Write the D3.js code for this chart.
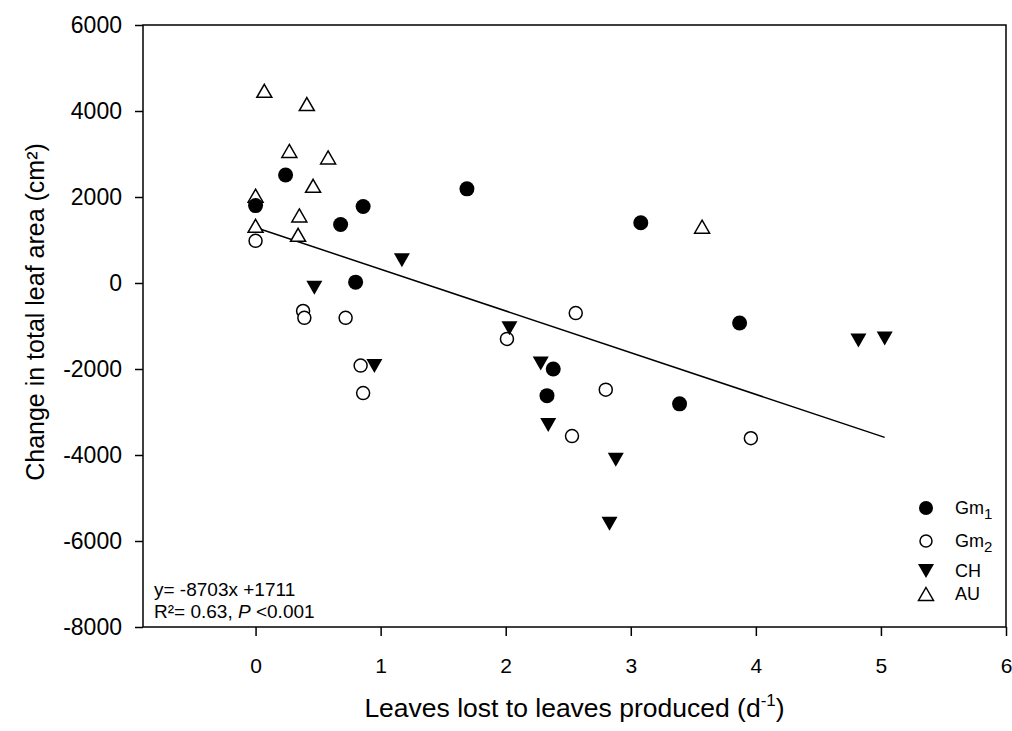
<!DOCTYPE html>
<html>
<head>
<meta charset="utf-8">
<script src="https://cdn.jsdelivr.net/npm/d3@7"></script>
<style>
  html, body { margin: 0; padding: 0; background: #fff; }
  svg { display: block; font-family: "Liberation Sans", Arial, sans-serif; }
</style>
</head>
<body>
<svg id="chart" width="1012" height="731"></svg>
<script>
// ---- data ----
const gm1X = [0.00, 0.24, 0.68, 0.86, 0.80, 1.69, 3.08, 3.87, 2.38, 2.33, 3.39];
const gm1Y = [1800, 2510, 1360, 1780, 20, 2190, 1400, -930, -2000, -2620, -2810];

const gm2X = [0.00, 0.38, 0.39, 0.72, 0.84, 0.86, 2.01, 2.56, 2.80, 2.53, 3.96];
const gm2Y = [980, -650, -810, -810, -1920, -2560, -1300, -700, -2480, -3560, -3610];

const chX = [0.47, 1.17, 0.95, 2.03, 2.28, 2.34, 2.88, 2.83, 4.82, 5.03];
const chY = [-110, 530, -1930, -1050, -1870, -3300, -4110, -5600, -1340, -1290];

const auX = [0.07, 0.41, 0.27, 0.58, 0.46, 0.00, 0.35, 0.00, 0.34, 3.57];
const auY = [4470, 4160, 3070, 2920, 2260, 2030, 1570, 1330, 1120, 1310];

const fitX = [0, 5.03];
const fitY = [1290, -3590];

const xTicks = [0, 1, 2, 3, 4, 5, 6];
const yTicks = [-8000, -6000, -4000, -2000, 0, 2000, 4000, 6000];

const seriesNames = ["Gm1", "Gm2", "CH", "AU"];

// ---- layout ----
const svg = d3.select("#chart");
const L = 143, R = 1006, T = 25, B = 627;

const x = d3.scaleLinear().domain([-0.9, 6]).range([L, R]);
const y = d3.scaleLinear().domain([-8000, 6000]).range([B, T]);

// frame
svg.append("rect")
  .attr("x", L).attr("y", T).attr("width", R - L).attr("height", B - T)
  .attr("fill", "none").attr("stroke", "#000").attr("stroke-width", 1.5);

// y axis
const yAxis = svg.append("g").attr("transform", `translate(${L},0)`)
  .call(d3.axisLeft(y).tickValues(yTicks).tickSize(8).tickPadding(13).tickFormat(d => String(d)));
yAxis.select(".domain").remove();
yAxis.selectAll("line").attr("stroke-width", 1.5);
yAxis.selectAll("text").attr("font-size", 23).attr("fill", "#000")
  .attr("font-family", "'Liberation Sans', Arial, sans-serif");

// x axis
const xAxis = svg.append("g").attr("transform", `translate(0,${B})`)
  .call(d3.axisBottom(x).tickValues(xTicks).tickSize(9).tickPadding(22).tickFormat(d => String(d)));
xAxis.select(".domain").remove();
xAxis.selectAll("line").attr("stroke-width", 1.5);
xAxis.selectAll("text").attr("font-size", 21).attr("fill", "#000")
  .attr("font-family", "'Liberation Sans', Arial, sans-serif");

// axis titles
const xt = svg.append("text")
  .attr("x", (L + R) / 2).attr("y", 717)
  .attr("text-anchor", "middle").attr("font-size", 26.5).attr("fill", "#000");
xt.append("tspan").text("Leaves lost to leaves produced (d");
xt.append("tspan").attr("dy", -11).attr("font-size", 17).text("-1");
xt.append("tspan").attr("dy", 11).text(")");

svg.append("text")
  .attr("transform", `translate(44,${(T + B) / 2 - 14}) rotate(-90)`)
  .attr("text-anchor", "middle").attr("font-size", 25).attr("fill", "#000")
  .text("Change in total leaf area (cm²)");

// regression line
svg.append("path")
  .datum(fitX.map((v, i) => [v, fitY[i]]))
  .attr("d", d3.line().x(d => x(d[0])).y(d => y(d[1])))
  .attr("fill", "none").attr("stroke", "#000").attr("stroke-width", 1.5);

// marker shapes
const upTri = "M0,-6.5L7.5,6.5L-7.5,6.5Z";
const downTri = "M-8,-7L8,-7L0,7Z";

function pts(xs, ys) { return xs.map((v, i) => [v, ys[i]]); }

// AU open up triangles
svg.append("g").selectAll("path").data(pts(auX, auY)).join("path")
  .attr("transform", d => `translate(${x(d[0])},${y(d[1])})`)
  .attr("d", upTri).attr("fill", "#fff").attr("stroke", "#000").attr("stroke-width", 1.5);

// Gm2 open circles
svg.append("g").selectAll("circle").data(pts(gm2X, gm2Y)).join("circle")
  .attr("cx", d => x(d[0])).attr("cy", d => y(d[1])).attr("r", 6.5)
  .attr("fill", "#fff").attr("stroke", "#000").attr("stroke-width", 1.5);

// Gm1 filled circles
svg.append("g").selectAll("circle").data(pts(gm1X, gm1Y)).join("circle")
  .attr("cx", d => x(d[0])).attr("cy", d => y(d[1])).attr("r", 7.5)
  .attr("fill", "#000");

// CH filled down triangles
svg.append("g").selectAll("path").data(pts(chX, chY)).join("path")
  .attr("transform", d => `translate(${x(d[0])},${y(d[1])})`)
  .attr("d", downTri).attr("fill", "#000");

// legend
const lg = svg.append("g");
const legRows = [
  { name: "Gm", sub: "1", y: 508, type: "fc" },
  { name: "Gm", sub: "2", y: 541, type: "oc" },
  { name: "CH", sub: null, y: 571, type: "dt" },
  { name: "AU", sub: null, y: 594, type: "ut" }
];
legRows.forEach(r => {
  const mx = 926;
  if (r.type === "fc") lg.append("circle").attr("cx", mx).attr("cy", r.y).attr("r", 7).attr("fill", "#000");
  if (r.type === "oc") lg.append("circle").attr("cx", mx).attr("cy", r.y).attr("r", 6).attr("fill", "#fff").attr("stroke", "#000").attr("stroke-width", 1.5);
  if (r.type === "dt") lg.append("path").attr("transform", `translate(${mx},${r.y})`).attr("d", downTri).attr("fill", "#000");
  if (r.type === "ut") lg.append("path").attr("transform", `translate(${mx},${r.y})`).attr("d", upTri).attr("fill", "#fff").attr("stroke", "#000").attr("stroke-width", 1.5);
  const t = lg.append("text").attr("x", 955).attr("y", r.y + 6).attr("font-size", 18).attr("fill", "#000");
  t.append("tspan").text(r.name);
  if (r.sub) t.append("tspan").attr("dy", 5).attr("font-size", 15).text(r.sub);
});

// annotation
svg.append("text").attr("x", 154).attr("y", 596).attr("font-size", 19).attr("fill", "#000")
  .text("y= -8703x +1711");
const ann = svg.append("text").attr("x", 154).attr("y", 618).attr("font-size", 19).attr("fill", "#000");
ann.append("tspan").text("R²= 0.63, ");
ann.append("tspan").attr("font-style", "italic").text("P");
ann.append("tspan").text(" <0.001");
</script>
</body>
</html>
